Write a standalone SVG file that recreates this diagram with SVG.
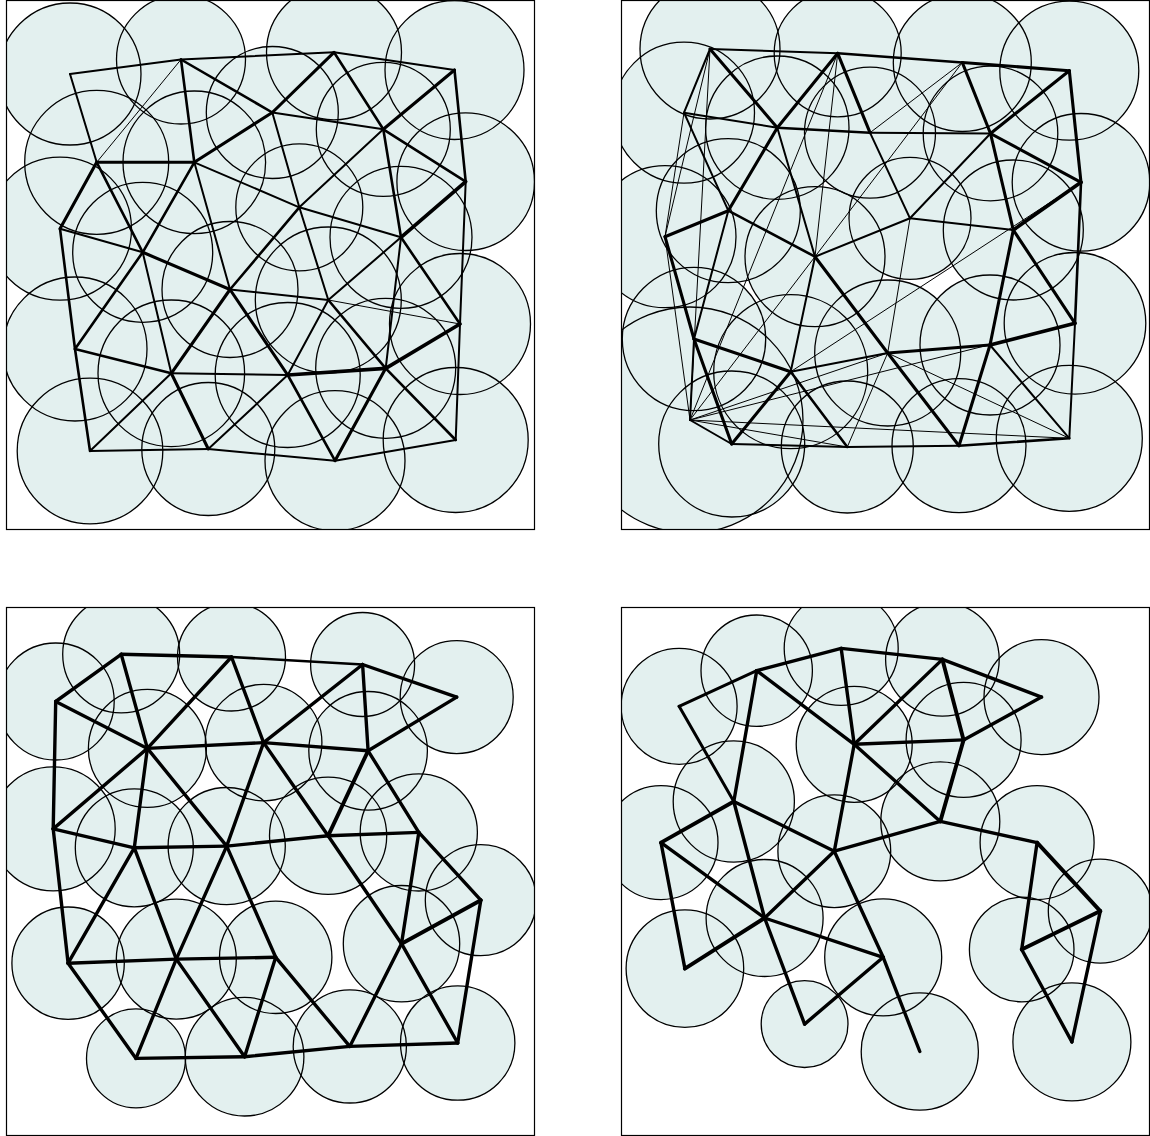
<svg xmlns="http://www.w3.org/2000/svg" width="1150" height="1136" viewBox="0 0 1150 1136">
<style>
.bg{fill:#ffffff}
.panel{fill:none;stroke:#000;stroke-width:1.2}
.disk{fill:#e3f0ef;stroke:none}
.ring{fill:none;stroke:#000;stroke-width:1.3}
line{stroke:#000;stroke-linecap:round}
.w1{stroke-width:1}
.w2{stroke-width:2}
.w3{stroke-width:2.6}
.w4{stroke-width:3.1}
.w5{stroke-width:3.7}
#p3-edges .w4,#p4-edges .w4{stroke-width:3.4}
#p3-edges .w5,#p4-edges .w5{stroke-width:3.9}
#p4-edges .w3{stroke-width:3}
</style>
<defs>
<clipPath id="clip1"><rect x="6.5" y="0.5" width="528" height="529"/></clipPath>
<clipPath id="clip2"><rect x="621.5" y="0.5" width="528" height="529"/></clipPath>
<clipPath id="clip3"><rect x="6.5" y="607.5" width="528" height="528"/></clipPath>
<clipPath id="clip4"><rect x="621.5" y="607.5" width="528" height="528"/></clipPath>
</defs>
<rect class="bg" x="0" y="0" width="1150" height="1136"/>

<!-- ===================== PANEL 1 ===================== -->
<g id="panel1" clip-path="url(#clip1)">
<g id="p1-disks" class="disk">
<circle cx="70" cy="74" r="71"/><circle cx="181" cy="59.5" r="64.5"/><circle cx="334" cy="52.3" r="67.5"/><circle cx="454.5" cy="70" r="69.5"/>
<circle cx="272.3" cy="112.5" r="66"/><circle cx="383.3" cy="129.3" r="67"/><circle cx="96.7" cy="162.3" r="72"/><circle cx="194.3" cy="162.3" r="71.3"/>
<circle cx="465.7" cy="181.7" r="68.8"/><circle cx="60" cy="228.7" r="71.5"/><circle cx="299.3" cy="207.3" r="63.5"/><circle cx="401" cy="237.3" r="71"/>
<circle cx="142.7" cy="252.3" r="70"/><circle cx="230" cy="289.5" r="68"/><circle cx="328.3" cy="300" r="73"/><circle cx="460" cy="324" r="70.5"/>
<circle cx="75" cy="349" r="72"/><circle cx="171.3" cy="373.3" r="73.3"/><circle cx="287.7" cy="375" r="72.5"/><circle cx="385.7" cy="368.3" r="70"/>
<circle cx="90" cy="451" r="72.8"/><circle cx="208.3" cy="449" r="66.5"/><circle cx="335" cy="460.7" r="70"/><circle cx="455.7" cy="440" r="72.5"/>
</g>
<g id="p1-n1"><circle class="ring" cx="70" cy="74" r="71"/></g>
<g id="p1-n2"><circle class="ring" cx="181" cy="59.5" r="64.5"/></g>
<g id="p1-n3"><circle class="ring" cx="334" cy="52.3" r="67.5"/></g>
<g id="p1-n4"><circle class="ring" cx="454.5" cy="70" r="69.5"/></g>
<g id="p1-n5"><circle class="ring" cx="272.3" cy="112.5" r="66"/></g>
<g id="p1-n6"><circle class="ring" cx="383.3" cy="129.3" r="67"/></g>
<g id="p1-n7"><circle class="ring" cx="96.7" cy="162.3" r="72"/></g>
<g id="p1-n8"><circle class="ring" cx="194.3" cy="162.3" r="71.3"/></g>
<g id="p1-n9"><circle class="ring" cx="465.7" cy="181.7" r="68.8"/></g>
<g id="p1-n10"><circle class="ring" cx="60" cy="228.7" r="71.5"/></g>
<g id="p1-n11"><circle class="ring" cx="299.3" cy="207.3" r="63.5"/></g>
<g id="p1-n12"><circle class="ring" cx="401" cy="237.3" r="71"/></g>
<g id="p1-n13"><circle class="ring" cx="142.7" cy="252.3" r="70"/></g>
<g id="p1-n14"><circle class="ring" cx="230" cy="289.5" r="68"/></g>
<g id="p1-n15"><circle class="ring" cx="328.3" cy="300" r="73"/></g>
<g id="p1-n16"><circle class="ring" cx="460" cy="324" r="70.5"/></g>
<g id="p1-n17"><circle class="ring" cx="75" cy="349" r="72"/></g>
<g id="p1-n18"><circle class="ring" cx="171.3" cy="373.3" r="73.3"/></g>
<g id="p1-n19"><circle class="ring" cx="287.7" cy="375" r="72.5"/></g>
<g id="p1-n20"><circle class="ring" cx="385.7" cy="368.3" r="70"/></g>
<g id="p1-n21"><circle class="ring" cx="90" cy="451" r="72.8"/></g>
<g id="p1-n22"><circle class="ring" cx="208.3" cy="449" r="66.5"/></g>
<g id="p1-n23"><circle class="ring" cx="335" cy="460.7" r="70"/></g>
<g id="p1-n24"><circle class="ring" cx="455.7" cy="440" r="72.5"/></g>
</g>
<g id="p1-edges">
<line class="w2" x1="70" y1="74" x2="181" y2="59.5"/>
<line class="w2" x1="181" y1="59.5" x2="334" y2="52.3"/>
<line class="w2" x1="334" y1="52.3" x2="454.5" y2="70"/>
<line class="w2" x1="70" y1="74" x2="96.7" y2="162.3"/>
<line class="w1" x1="181" y1="59.5" x2="96.7" y2="162.3"/>
<line class="w3" x1="181" y1="59.5" x2="194.3" y2="162.3"/>
<line class="w4" x1="96.7" y1="162.3" x2="194.3" y2="162.3"/>
<line class="w3" x1="181" y1="59.5" x2="272.3" y2="112.5"/>
<line class="w4" x1="272.3" y1="112.5" x2="194.3" y2="162.3"/>
<line class="w4" x1="334" y1="52.3" x2="272.3" y2="112.5"/>
<line class="w3" x1="334" y1="52.3" x2="383.3" y2="129.3"/>
<line class="w2" x1="272.3" y1="112.5" x2="383.3" y2="129.3"/>
<line class="w4" x1="454.5" y1="70" x2="383.3" y2="129.3"/>
<line class="w3" x1="454.5" y1="70" x2="465.7" y2="181.7"/>
<line class="w3" x1="383.3" y1="129.3" x2="465.7" y2="181.7"/>
<line class="w3" x1="383.3" y1="129.3" x2="401" y2="237.3"/>
<line class="w5" x1="465.7" y1="181.7" x2="401" y2="237.3"/>
<line class="w2" x1="465.7" y1="181.7" x2="460" y2="324"/>
<line class="w3" x1="401" y1="237.3" x2="460" y2="324"/>
<line class="w2" x1="272.3" y1="112.5" x2="299.3" y2="207.3"/>
<line class="w2" x1="383.3" y1="129.3" x2="299.3" y2="207.3"/>
<line class="w2" x1="194.3" y1="162.3" x2="299.3" y2="207.3"/>
<line class="w2" x1="299.3" y1="207.3" x2="401" y2="237.3"/>
<line class="w2" x1="194.3" y1="162.3" x2="230" y2="289.5"/>
<line class="w3" x1="299.3" y1="207.3" x2="230" y2="289.5"/>
<line class="w4" x1="96.7" y1="162.3" x2="60" y2="228.7"/>
<line class="w3" x1="96.7" y1="162.3" x2="142.7" y2="252.3"/>
<line class="w3" x1="194.3" y1="162.3" x2="142.7" y2="252.3"/>
<line class="w2" x1="60" y1="228.7" x2="142.7" y2="252.3"/>
<line class="w4" x1="142.7" y1="252.3" x2="230" y2="289.5"/>
<line class="w3" x1="60" y1="228.7" x2="75" y2="349"/>
<line class="w3" x1="142.7" y1="252.3" x2="75" y2="349"/>
<line class="w2" x1="142.7" y1="252.3" x2="171.3" y2="373.3"/>
<line class="w4" x1="230" y1="289.5" x2="171.3" y2="373.3"/>
<line class="w3" x1="75" y1="349" x2="171.3" y2="373.3"/>
<line class="w3" x1="75" y1="349" x2="90" y2="451"/>
<line class="w2" x1="171.3" y1="373.3" x2="90" y2="451"/>
<line class="w4" x1="171.3" y1="373.3" x2="208.3" y2="449"/>
<line class="w2" x1="90" y1="451" x2="208.3" y2="449"/>
<line class="w2" x1="171.3" y1="373.3" x2="287.7" y2="375"/>
<line class="w4" x1="230" y1="289.5" x2="287.7" y2="375"/>
<line class="w2" x1="230" y1="289.5" x2="328.3" y2="300"/>
<line class="w2" x1="299.3" y1="207.3" x2="328.3" y2="300"/>
<line class="w2" x1="401" y1="237.3" x2="328.3" y2="300"/>
<line class="w2" x1="328.3" y1="300" x2="287.7" y2="375"/>
<line class="w3" x1="328.3" y1="300" x2="385.7" y2="368.3"/>
<line class="w2" x1="401" y1="237.3" x2="385.7" y2="368.3"/>
<line class="w1" x1="328.3" y1="300" x2="460" y2="324"/>
<line class="w5" x1="460" y1="324" x2="385.7" y2="368.3"/>
<line class="w5" x1="287.7" y1="375" x2="385.7" y2="368.3"/>
<line class="w2" x1="208.3" y1="449" x2="287.7" y2="375"/>
<line class="w3" x1="287.7" y1="375" x2="335" y2="460.7"/>
<line class="w2" x1="208.3" y1="449" x2="335" y2="460.7"/>
<line class="w4" x1="385.7" y1="368.3" x2="335" y2="460.7"/>
<line class="w3" x1="385.7" y1="368.3" x2="455.7" y2="440"/>
<line class="w2" x1="335" y1="460.7" x2="455.7" y2="440"/>
<line class="w2" x1="460" y1="324" x2="455.7" y2="440"/>
</g>
<rect class="panel" x="6.5" y="0.5" width="528" height="529"/>

<!-- ===================== PANEL 2 ===================== -->
<g id="panel2" clip-path="url(#clip2)">
<g id="p2-disks" class="disk">
<circle cx="710" cy="49" r="70"/><circle cx="837.7" cy="53.3" r="63.5"/><circle cx="962.3" cy="62.5" r="69"/><circle cx="1069.3" cy="70.7" r="69.5"/>
<circle cx="684" cy="112.7" r="70.5"/><circle cx="777.3" cy="127.7" r="71.7"/><circle cx="870" cy="132.7" r="65.5"/><circle cx="990.5" cy="133.5" r="67.3"/>
<circle cx="1081" cy="182.3" r="68.8"/><circle cx="728.3" cy="210.7" r="72"/><circle cx="665" cy="236.7" r="71"/><circle cx="815" cy="256.7" r="70"/>
<circle cx="910" cy="218.3" r="61"/><circle cx="1013.3" cy="230" r="70"/><circle cx="694" cy="339" r="71.7"/><circle cx="790.7" cy="371.7" r="77"/>
<circle cx="887.7" cy="353" r="73"/><circle cx="990" cy="345" r="70"/><circle cx="1075" cy="323.3" r="70.8"/><circle cx="690" cy="420" r="113"/>
<circle cx="731.7" cy="444" r="73"/><circle cx="847.3" cy="447" r="66"/><circle cx="959" cy="445.7" r="67"/><circle cx="1069.3" cy="438.3" r="73"/>
</g>
<g id="p2-a"><circle class="ring" cx="710" cy="49" r="70"/></g>
<g id="p2-b"><circle class="ring" cx="837.7" cy="53.3" r="63.5"/></g>
<g id="p2-c"><circle class="ring" cx="962.3" cy="62.5" r="69"/></g>
<g id="p2-d"><circle class="ring" cx="1069.3" cy="70.7" r="69.5"/></g>
<g id="p2-e"><circle class="ring" cx="684" cy="112.7" r="70.5"/></g>
<g id="p2-f"><circle class="ring" cx="777.3" cy="127.7" r="71.7"/></g>
<g id="p2-g"><circle class="ring" cx="870" cy="132.7" r="65.5"/></g>
<g id="p2-h"><circle class="ring" cx="990.5" cy="133.5" r="67.3"/></g>
<g id="p2-i"><circle class="ring" cx="1081" cy="182.3" r="68.8"/></g>
<g id="p2-j"><circle class="ring" cx="728.3" cy="210.7" r="72"/></g>
<g id="p2-k"><circle class="ring" cx="665" cy="236.7" r="71"/></g>
<g id="p2-l"><circle class="ring" cx="815" cy="256.7" r="70"/></g>
<g id="p2-m"><circle class="ring" cx="910" cy="218.3" r="61"/></g>
<g id="p2-n"><circle class="ring" cx="1013.3" cy="230" r="70"/></g>
<g id="p2-o"><circle class="ring" cx="694" cy="339" r="71.7"/></g>
<g id="p2-p"><circle class="ring" cx="790.7" cy="371.7" r="77"/></g>
<g id="p2-q"><circle class="ring" cx="887.7" cy="353" r="73"/></g>
<g id="p2-r"><circle class="ring" cx="990" cy="345" r="70"/></g>
<g id="p2-s"><circle class="ring" cx="1075" cy="323.3" r="70.8"/></g>
<g id="p2-t"><circle class="ring" cx="690" cy="420" r="113"/></g>
<g id="p2-u"><circle class="ring" cx="731.7" cy="444" r="73"/></g>
<g id="p2-v"><circle class="ring" cx="847.3" cy="447" r="66"/></g>
<g id="p2-w"><circle class="ring" cx="959" cy="445.7" r="67"/></g>
<g id="p2-x"><circle class="ring" cx="1069.3" cy="438.3" r="73"/></g>
</g>
<g id="p2-edges">
<line class="w2" x1="710" y1="49" x2="837.7" y2="53.3"/>
<line class="w3" x1="837.7" y1="53.3" x2="962.3" y2="62.5"/>
<line class="w4" x1="962.3" y1="62.5" x2="1069.3" y2="70.7"/>
<line class="w2" x1="710" y1="49" x2="684" y2="112.7"/>
<line class="w4" x1="710" y1="49" x2="777.3" y2="127.7"/>
<line class="w2" x1="684" y1="112.7" x2="777.3" y2="127.7"/>
<line class="w2" x1="684" y1="112.7" x2="728.3" y2="210.7"/>
<line class="w4" x1="837.7" y1="53.3" x2="777.3" y2="127.7"/>
<line class="w3" x1="777.3" y1="127.7" x2="870" y2="132.7"/>
<line class="w4" x1="777.3" y1="127.7" x2="728.3" y2="210.7"/>
<line class="w2" x1="777.3" y1="127.7" x2="815" y2="256.7"/>
<line class="w4" x1="837.7" y1="53.3" x2="870" y2="132.7"/>
<line class="w1" x1="962.3" y1="62.5" x2="870" y2="132.7"/>
<line class="w4" x1="962.3" y1="62.5" x2="990.5" y2="133.5"/>
<line class="w2" x1="870" y1="132.7" x2="990.5" y2="133.5"/>
<line class="w2" x1="870" y1="132.7" x2="910" y2="218.3"/>
<line class="w4" x1="990.5" y1="133.5" x2="1069.3" y2="70.7"/>
<line class="w4" x1="990.5" y1="133.5" x2="1081" y2="182.3"/>
<line class="w4" x1="990.5" y1="133.5" x2="1013.3" y2="230"/>
<line class="w2" x1="990.5" y1="133.5" x2="910" y2="218.3"/>
<line class="w4" x1="1069.3" y1="70.7" x2="1081" y2="182.3"/>
<line class="w5" x1="1081" y1="182.3" x2="1013.3" y2="230"/>
<line class="w3" x1="1081" y1="182.3" x2="1075" y2="323.3"/>
<line class="w4" x1="728.3" y1="210.7" x2="665" y2="236.7"/>
<line class="w3" x1="728.3" y1="210.7" x2="815" y2="256.7"/>
<line class="w2" x1="728.3" y1="210.7" x2="694" y2="339"/>
<line class="w4" x1="665" y1="236.7" x2="694" y2="339"/>
<line class="w2" x1="815" y1="256.7" x2="910" y2="218.3"/>
<line class="w4" x1="815" y1="256.7" x2="887.7" y2="353"/>
<line class="w2" x1="815" y1="256.7" x2="790.7" y2="371.7"/>
<line class="w2" x1="910" y1="218.3" x2="1013.3" y2="230"/>
<line class="w4" x1="1013.3" y1="230" x2="990" y2="345"/>
<line class="w4" x1="1013.3" y1="230" x2="1075" y2="323.3"/>
<line class="w4" x1="694" y1="339" x2="790.7" y2="371.7"/>
<line class="w4" x1="694" y1="339" x2="731.7" y2="444"/>
<line class="w2" x1="694" y1="339" x2="690" y2="420"/>
<line class="w2" x1="690" y1="420" x2="731.7" y2="444"/>
<line class="w4" x1="731.7" y1="444" x2="790.7" y2="371.7"/>
<line class="w2" x1="731.7" y1="444" x2="847.3" y2="447"/>
<line class="w3" x1="790.7" y1="371.7" x2="847.3" y2="447"/>
<line class="w2" x1="790.7" y1="371.7" x2="887.7" y2="353"/>
<line class="w4" x1="887.7" y1="353" x2="990" y2="345"/>
<line class="w4" x1="887.7" y1="353" x2="959" y2="445.7"/>
<line class="w5" x1="990" y1="345" x2="1075" y2="323.3"/>
<line class="w4" x1="990" y1="345" x2="959" y2="445.7"/>
<line class="w2" x1="990" y1="345" x2="1069.3" y2="438.3"/>
<line class="w2" x1="1075" y1="323.3" x2="1069.3" y2="438.3"/>
<line class="w2" x1="847.3" y1="447" x2="959" y2="445.7"/>
<line class="w3" x1="959" y1="445.7" x2="1069.3" y2="438.3"/>
<line class="w1" x1="710" y1="49" x2="665" y2="236.7"/>
<line class="w1" x1="710" y1="49" x2="690" y2="420"/>
<line class="w1" x1="684" y1="112.7" x2="665" y2="236.7"/>
<line class="w1" x1="665" y1="236.7" x2="690" y2="420"/>
<line class="w1" x1="837.7" y1="53.3" x2="690" y2="420"/>
<line class="w1" x1="837.7" y1="53.3" x2="815" y2="256.7"/>
<line class="w1" x1="962.3" y1="62.5" x2="815" y2="256.7"/>
<line class="w1" x1="690" y1="420" x2="815" y2="256.7"/>
<line class="w1" x1="690" y1="420" x2="887.7" y2="353"/>
<line class="w1" x1="690" y1="420" x2="1075" y2="323.3"/>
<line class="w1" x1="690" y1="420" x2="1069.3" y2="438.3"/>
<line class="w1" x1="690" y1="420" x2="847.3" y2="447"/>
<line class="w1" x1="887.7" y1="353" x2="1069.3" y2="438.3"/>
<line class="w1" x1="887.7" y1="353" x2="910" y2="218.3"/>
<line class="w1" x1="887.7" y1="353" x2="847.3" y2="447"/>
<line class="w1" x1="1081" y1="182.3" x2="790.7" y2="371.7"/>
</g>
<rect class="panel" x="621.5" y="0.5" width="528" height="529"/>

<!-- ===================== PANEL 3 ===================== -->
<g id="panel3" clip-path="url(#clip3)">
<g id="p3-disks" class="disk">
<circle cx="121.2" cy="654.3" r="58.5"/><circle cx="231.5" cy="657" r="54"/><circle cx="362.6" cy="664.5" r="52"/><circle cx="456.7" cy="697.1" r="56.5"/>
<circle cx="55.7" cy="701.5" r="58.5"/><circle cx="147.4" cy="748.4" r="59"/><circle cx="263.6" cy="742.6" r="58.3"/><circle cx="368.1" cy="750.8" r="59.3"/>
<circle cx="53.2" cy="828.9" r="62"/><circle cx="134.3" cy="847.8" r="59"/><circle cx="226.7" cy="846.1" r="58.6"/><circle cx="328.1" cy="835.8" r="58.6"/>
<circle cx="418.8" cy="832.4" r="58.6"/><circle cx="480.8" cy="900.2" r="55.5"/><circle cx="68.1" cy="963.2" r="56.2"/><circle cx="176.3" cy="959.1" r="60"/>
<circle cx="275.7" cy="957.3" r="56.2"/><circle cx="401.5" cy="943.7" r="58.2"/><circle cx="136" cy="1058.4" r="49.5"/><circle cx="244.6" cy="1056.7" r="59.3"/>
<circle cx="349.8" cy="1046.4" r="56.6"/><circle cx="457.7" cy="1043" r="57.2"/>
</g>
<g id="p3-n1"><circle class="ring" cx="121.2" cy="654.3" r="58.5"/></g>
<g id="p3-n2"><circle class="ring" cx="231.5" cy="657" r="54"/></g>
<g id="p3-n3"><circle class="ring" cx="362.6" cy="664.5" r="52"/></g>
<g id="p3-n4"><circle class="ring" cx="456.7" cy="697.1" r="56.5"/></g>
<g id="p3-n5"><circle class="ring" cx="55.7" cy="701.5" r="58.5"/></g>
<g id="p3-n6"><circle class="ring" cx="147.4" cy="748.4" r="59"/></g>
<g id="p3-n7"><circle class="ring" cx="263.6" cy="742.6" r="58.3"/></g>
<g id="p3-n8"><circle class="ring" cx="368.1" cy="750.8" r="59.3"/></g>
<g id="p3-n9"><circle class="ring" cx="53.2" cy="828.9" r="62"/></g>
<g id="p3-n10"><circle class="ring" cx="134.3" cy="847.8" r="59"/></g>
<g id="p3-n11"><circle class="ring" cx="226.7" cy="846.1" r="58.6"/></g>
<g id="p3-n12"><circle class="ring" cx="328.1" cy="835.8" r="58.6"/></g>
<g id="p3-n13"><circle class="ring" cx="418.8" cy="832.4" r="58.6"/></g>
<g id="p3-n14"><circle class="ring" cx="480.8" cy="900.2" r="55.5"/></g>
<g id="p3-n15"><circle class="ring" cx="68.1" cy="963.2" r="56.2"/></g>
<g id="p3-n16"><circle class="ring" cx="176.3" cy="959.1" r="60"/></g>
<g id="p3-n17"><circle class="ring" cx="275.7" cy="957.3" r="56.2"/></g>
<g id="p3-n18"><circle class="ring" cx="401.5" cy="943.7" r="58.2"/></g>
<g id="p3-n19"><circle class="ring" cx="136" cy="1058.4" r="49.5"/></g>
<g id="p3-n20"><circle class="ring" cx="244.6" cy="1056.7" r="59.3"/></g>
<g id="p3-n21"><circle class="ring" cx="349.8" cy="1046.4" r="56.6"/></g>
<g id="p3-n22"><circle class="ring" cx="457.7" cy="1043" r="57.2"/></g>
</g>
<g id="p3-edges">
<line class="w4" x1="55.7" y1="701.5" x2="121.2" y2="654.3"/>
<line class="w4" x1="121.2" y1="654.3" x2="231.5" y2="657"/>
<line class="w3" x1="231.5" y1="657" x2="362.6" y2="664.5"/>
<line class="w4" x1="362.6" y1="664.5" x2="456.7" y2="697.1"/>
<line class="w4" x1="456.7" y1="697.1" x2="368.1" y2="750.8"/>
<line class="w4" x1="362.6" y1="664.5" x2="368.1" y2="750.8"/>
<line class="w4" x1="362.6" y1="664.5" x2="263.6" y2="742.6"/>
<line class="w4" x1="231.5" y1="657" x2="263.6" y2="742.6"/>
<line class="w4" x1="231.5" y1="657" x2="147.4" y2="748.4"/>
<line class="w4" x1="121.2" y1="654.3" x2="147.4" y2="748.4"/>
<line class="w4" x1="55.7" y1="701.5" x2="147.4" y2="748.4"/>
<line class="w4" x1="147.4" y1="748.4" x2="263.6" y2="742.6"/>
<line class="w4" x1="263.6" y1="742.6" x2="368.1" y2="750.8"/>
<line class="w4" x1="55.7" y1="701.5" x2="53.2" y2="828.9"/>
<line class="w4" x1="147.4" y1="748.4" x2="53.2" y2="828.9"/>
<line class="w4" x1="147.4" y1="748.4" x2="134.3" y2="847.8"/>
<line class="w4" x1="147.4" y1="748.4" x2="226.7" y2="846.1"/>
<line class="w4" x1="263.6" y1="742.6" x2="226.7" y2="846.1"/>
<line class="w4" x1="263.6" y1="742.6" x2="328.1" y2="835.8"/>
<line class="w5" x1="368.1" y1="750.8" x2="328.1" y2="835.8"/>
<line class="w4" x1="368.1" y1="750.8" x2="418.8" y2="832.4"/>
<line class="w4" x1="53.2" y1="828.9" x2="134.3" y2="847.8"/>
<line class="w4" x1="134.3" y1="847.8" x2="226.7" y2="846.1"/>
<line class="w4" x1="226.7" y1="846.1" x2="328.1" y2="835.8"/>
<line class="w4" x1="328.1" y1="835.8" x2="418.8" y2="832.4"/>
<line class="w4" x1="418.8" y1="832.4" x2="480.8" y2="900.2"/>
<line class="w4" x1="418.8" y1="832.4" x2="401.5" y2="943.7"/>
<line class="w4" x1="328.1" y1="835.8" x2="401.5" y2="943.7"/>
<line class="w5" x1="480.8" y1="900.2" x2="401.5" y2="943.7"/>
<line class="w4" x1="480.8" y1="900.2" x2="457.7" y2="1043"/>
<line class="w4" x1="53.2" y1="828.9" x2="68.1" y2="963.2"/>
<line class="w4" x1="134.3" y1="847.8" x2="68.1" y2="963.2"/>
<line class="w4" x1="134.3" y1="847.8" x2="176.3" y2="959.1"/>
<line class="w4" x1="226.7" y1="846.1" x2="176.3" y2="959.1"/>
<line class="w4" x1="226.7" y1="846.1" x2="275.7" y2="957.3"/>
<line class="w4" x1="68.1" y1="963.2" x2="176.3" y2="959.1"/>
<line class="w4" x1="176.3" y1="959.1" x2="275.7" y2="957.3"/>
<line class="w4" x1="68.1" y1="963.2" x2="136" y2="1058.4"/>
<line class="w4" x1="176.3" y1="959.1" x2="136" y2="1058.4"/>
<line class="w4" x1="176.3" y1="959.1" x2="244.6" y2="1056.7"/>
<line class="w4" x1="275.7" y1="957.3" x2="244.6" y2="1056.7"/>
<line class="w4" x1="275.7" y1="957.3" x2="349.8" y2="1046.4"/>
<line class="w4" x1="401.5" y1="943.7" x2="349.8" y2="1046.4"/>
<line class="w4" x1="401.5" y1="943.7" x2="457.7" y2="1043"/>
<line class="w4" x1="136" y1="1058.4" x2="244.6" y2="1056.7"/>
<line class="w4" x1="244.6" y1="1056.7" x2="349.8" y2="1046.4"/>
<line class="w4" x1="349.8" y1="1046.4" x2="457.7" y2="1043"/>
</g>
<rect class="panel" x="6.5" y="607.5" width="528" height="528"/>

<!-- ===================== PANEL 4 ===================== -->
<g id="panel4" clip-path="url(#clip4)">
<g id="p4-disks" class="disk">
<circle cx="679.1" cy="706.3" r="58"/><circle cx="756.7" cy="670.7" r="55.7"/><circle cx="841.2" cy="648.4" r="57"/><circle cx="942.4" cy="659.4" r="56.8"/>
<circle cx="1041.5" cy="697.1" r="57.5"/><circle cx="854.2" cy="744.3" r="58"/><circle cx="963.6" cy="739.9" r="57.5"/><circle cx="733.8" cy="801.5" r="60.6"/>
<circle cx="661" cy="842.6" r="57"/><circle cx="834.3" cy="851.2" r="56.4"/><circle cx="940.3" cy="821.4" r="59.5"/><circle cx="1037.1" cy="842.6" r="57"/>
<circle cx="764.6" cy="918" r="58.5"/><circle cx="1100.3" cy="911.1" r="52"/><circle cx="1021.7" cy="949.5" r="52.3"/><circle cx="883.2" cy="957.3" r="58.5"/>
<circle cx="684.9" cy="968.6" r="58.8"/><circle cx="804.6" cy="1024.1" r="43.4"/><circle cx="919.8" cy="1051.5" r="58.6"/><circle cx="1071.9" cy="1041.9" r="59"/>
</g>
<g id="p4-n1"><circle class="ring" cx="679.1" cy="706.3" r="58"/></g>
<g id="p4-n2"><circle class="ring" cx="756.7" cy="670.7" r="55.7"/></g>
<g id="p4-n3"><circle class="ring" cx="841.2" cy="648.4" r="57"/></g>
<g id="p4-n4"><circle class="ring" cx="942.4" cy="659.4" r="56.8"/></g>
<g id="p4-n5"><circle class="ring" cx="1041.5" cy="697.1" r="57.5"/></g>
<g id="p4-n6"><circle class="ring" cx="854.2" cy="744.3" r="58"/></g>
<g id="p4-n7"><circle class="ring" cx="963.6" cy="739.9" r="57.5"/></g>
<g id="p4-n8"><circle class="ring" cx="733.8" cy="801.5" r="60.6"/></g>
<g id="p4-n9"><circle class="ring" cx="661" cy="842.6" r="57"/></g>
<g id="p4-n10"><circle class="ring" cx="834.3" cy="851.2" r="56.4"/></g>
<g id="p4-n11"><circle class="ring" cx="940.3" cy="821.4" r="59.5"/></g>
<g id="p4-n12"><circle class="ring" cx="1037.1" cy="842.6" r="57"/></g>
<g id="p4-n13"><circle class="ring" cx="764.6" cy="918" r="58.5"/></g>
<g id="p4-n14"><circle class="ring" cx="1100.3" cy="911.1" r="52"/></g>
<g id="p4-n15"><circle class="ring" cx="1021.7" cy="949.5" r="52.3"/></g>
<g id="p4-n16"><circle class="ring" cx="883.2" cy="957.3" r="58.5"/></g>
<g id="p4-n17"><circle class="ring" cx="684.9" cy="968.6" r="58.8"/></g>
<g id="p4-n18"><circle class="ring" cx="804.6" cy="1024.1" r="43.4"/></g>
<g id="p4-n19"><circle class="ring" cx="919.8" cy="1051.5" r="58.6"/></g>
<g id="p4-n20"><circle class="ring" cx="1071.9" cy="1041.9" r="59"/></g>
</g>
<g id="p4-edges">
<line class="w3" x1="679.1" y1="706.3" x2="756.7" y2="670.7"/>
<line class="w4" x1="756.7" y1="670.7" x2="841.2" y2="648.4"/>
<line class="w4" x1="841.2" y1="648.4" x2="942.4" y2="659.4"/>
<line class="w4" x1="942.4" y1="659.4" x2="1041.5" y2="697.1"/>
<line class="w3" x1="679.1" y1="706.3" x2="733.8" y2="801.5"/>
<line class="w4" x1="756.7" y1="670.7" x2="733.8" y2="801.5"/>
<line class="w4" x1="756.7" y1="670.7" x2="854.2" y2="744.3"/>
<line class="w4" x1="841.2" y1="648.4" x2="854.2" y2="744.3"/>
<line class="w4" x1="942.4" y1="659.4" x2="854.2" y2="744.3"/>
<line class="w5" x1="942.4" y1="659.4" x2="963.6" y2="739.9"/>
<line class="w4" x1="854.2" y1="744.3" x2="963.6" y2="739.9"/>
<line class="w4" x1="1041.5" y1="697.1" x2="963.6" y2="739.9"/>
<line class="w4" x1="854.2" y1="744.3" x2="940.3" y2="821.4"/>
<line class="w5" x1="963.6" y1="739.9" x2="940.3" y2="821.4"/>
<line class="w4" x1="854.2" y1="744.3" x2="834.3" y2="851.2"/>
<line class="w5" x1="733.8" y1="801.5" x2="661" y2="842.6"/>
<line class="w4" x1="733.8" y1="801.5" x2="834.3" y2="851.2"/>
<line class="w4" x1="733.8" y1="801.5" x2="764.6" y2="918"/>
<line class="w4" x1="661" y1="842.6" x2="764.6" y2="918"/>
<line class="w4" x1="661" y1="842.6" x2="684.9" y2="968.6"/>
<line class="w5" x1="764.6" y1="918" x2="684.9" y2="968.6"/>
<line class="w4" x1="834.3" y1="851.2" x2="764.6" y2="918"/>
<line class="w4" x1="834.3" y1="851.2" x2="940.3" y2="821.4"/>
<line class="w4" x1="834.3" y1="851.2" x2="883.2" y2="957.3"/>
<line class="w4" x1="764.6" y1="918" x2="883.2" y2="957.3"/>
<line class="w4" x1="764.6" y1="918" x2="804.6" y2="1024.1"/>
<line class="w4" x1="883.2" y1="957.3" x2="804.6" y2="1024.1"/>
<line class="w4" x1="883.2" y1="957.3" x2="919.8" y2="1051.5"/>
<line class="w4" x1="940.3" y1="821.4" x2="1037.1" y2="842.6"/>
<line class="w5" x1="1037.1" y1="842.6" x2="1100.3" y2="911.1"/>
<line class="w4" x1="1037.1" y1="842.6" x2="1021.7" y2="949.5"/>
<line class="w5" x1="1100.3" y1="911.1" x2="1021.7" y2="949.5"/>
<line class="w4" x1="1021.7" y1="949.5" x2="1071.9" y2="1041.9"/>
<line class="w4" x1="1100.3" y1="911.1" x2="1071.9" y2="1041.9"/>
</g>
<rect class="panel" x="621.5" y="607.5" width="528" height="528"/>
</svg>
